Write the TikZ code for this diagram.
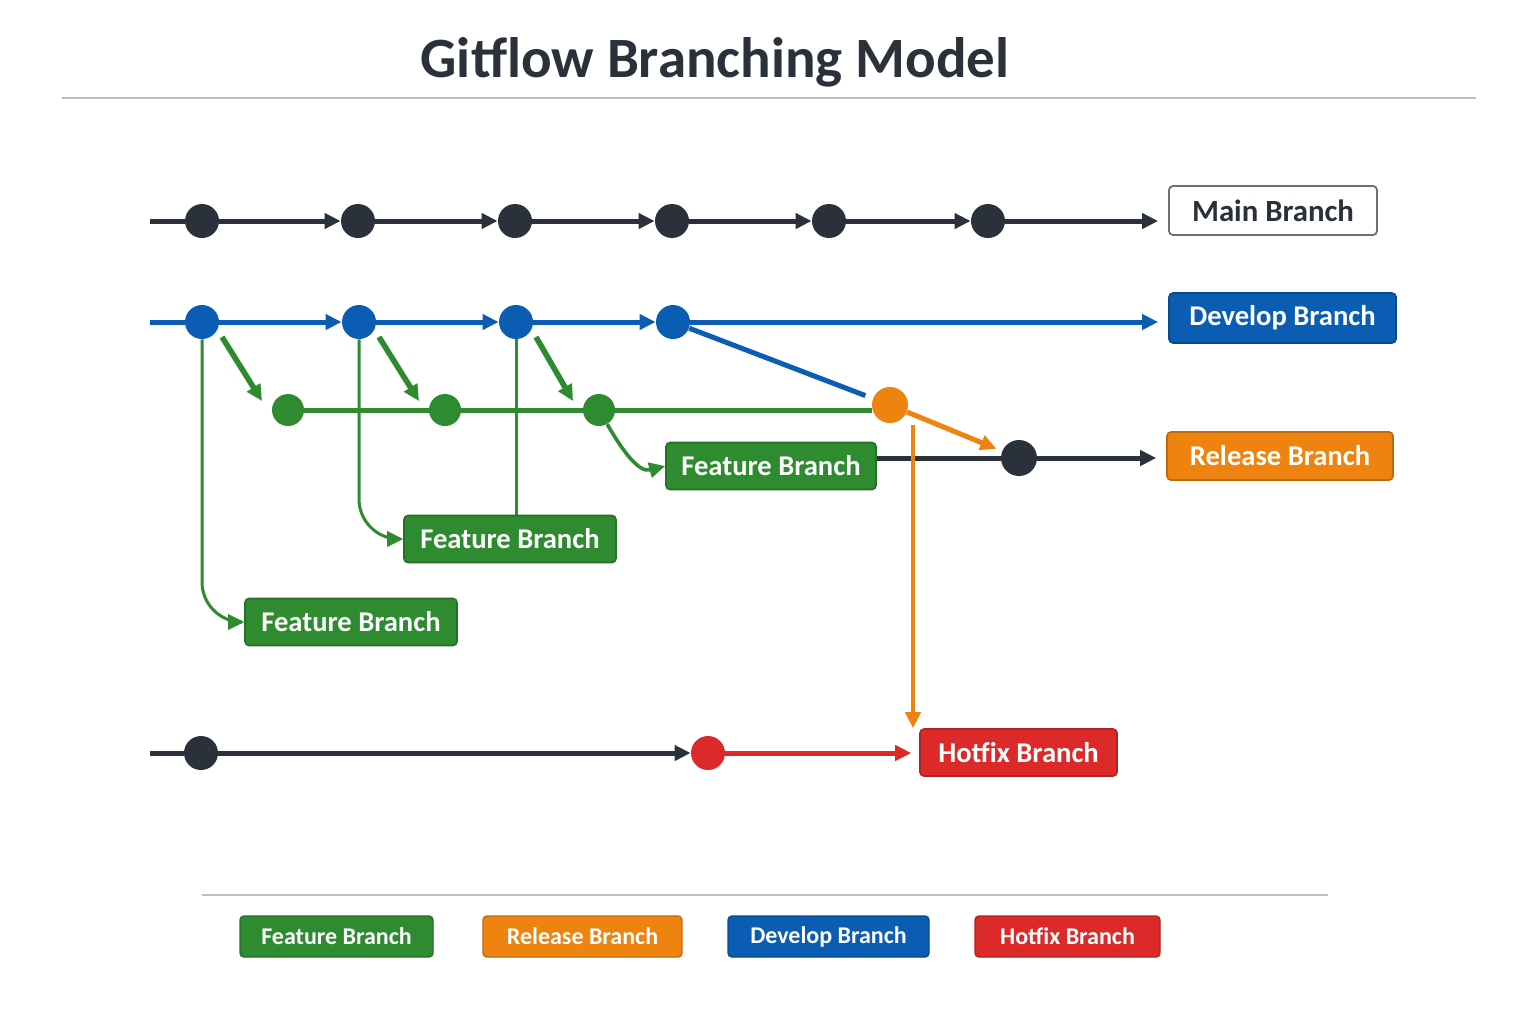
\documentclass[tikz,border=0pt]{standalone}
\usepackage{fontspec}
\setmainfont{Carlito}
\usetikzlibrary{arrows.meta,backgrounds}
\definecolor{ink}{HTML}{2B313B}
\definecolor{gblue}{HTML}{0B5DB3}
\definecolor{ggreen}{HTML}{2E8B30}
\definecolor{gorange}{HTML}{EE8310}
\definecolor{gred}{HTML}{DC2A2A}
\definecolor{rule}{HTML}{BDBDBD}
\begin{document}
\begin{tikzpicture}[x=0.5pt,y=-0.5pt,
  dot/.style={circle,inner sep=0pt,minimum size=17pt,fill=#1},
  gdot/.style={circle,inner sep=0pt,minimum size=16pt,fill=ggreen},
  lbox/.style={rounded corners=2pt,draw=#1!80!black,fill=#1,text=white,line width=0.8pt,
    font=\fontsize{14.3}{17}\selectfont\bfseries,inner sep=0pt,minimum height=23.5pt},
  legbox/.style={rounded corners=2pt,draw=#1!80!black,fill=#1,text=white,line width=0.7pt,
    font=\fontsize{12}{14}\selectfont\bfseries,inner sep=0pt,minimum height=20.5pt},
  tip/.style={-{Triangle[length=8pt,width=7.5pt]}},
  stip/.style={-{Triangle[length=8pt,width=7.5pt]}},
  thick4/.style={line width=2.5pt},
]
\useasboundingbox (0,0) rectangle (1536,1024);
% title
\node[font=\fontsize{28.5}{32}\selectfont\bfseries,text=ink] (title) at (715,62) {Gitflow Branching Model};
\coordinate (r1a) at (62,98); \coordinate (r1b) at (1476,98);
\draw[rule,line width=0.8pt] (r1a) -- (r1b);

% boxes
\node[rounded corners=2pt,draw=ink!70,fill=white,text=ink,line width=0.9pt,
  font=\fontsize{15.4}{18}\selectfont\bfseries,inner sep=0pt,minimum width=104pt,minimum height=24.5pt]
  (mainbox) at (1273,210.5) {Main Branch};
\node[lbox=gblue,minimum width=113.5pt,minimum height=25pt] (devbox) at (1282.5,318) {Develop Branch};
\node[lbox=gorange,minimum width=113pt,minimum height=24pt] (relbox) at (1280,456) {Release Branch};
\node[lbox=ggreen,minimum width=105pt] (f1) at (771,466) {Feature Branch};
\node[lbox=ggreen,minimum width=106pt] (f2) at (510,539) {Feature Branch};
\node[lbox=ggreen,minimum width=106pt] (f3) at (351,622) {Feature Branch};
\node[lbox=gred,minimum width=98.5pt] (hf) at (1018.5,752.5) {Hotfix Branch};

% main row
\coordinate (ms) at (150,221);
\foreach \i/\x in {1/202,2/358,3/515,4/672,5/829,6/988}{
  \node[dot=ink] (m\i) at (\x,221) {};
}
% develop row
\coordinate (ds) at (150,322);
\foreach \i/\x in {1/202,2/359,3/516,4/673}{
  \node[dot=gblue] (d\i) at (\x,322) {};
}
% feature row
\foreach \i/\x in {1/288,2/445,3/599}{
  \node[gdot] (g\i) at (\x,410) {};
}
\node[dot=gorange,minimum size=18pt] (o1) at (890,405) {};
\node[dot=ink,minimum size=18pt] (r1) at (1019,458) {};
% hotfix row
\coordinate (hs) at (150,753);
\node[dot=ink,minimum size=17pt] (h1) at (201,753) {};
\node[dot=gred,minimum size=17pt] (h2) at (708,753) {};
\coordinate (ov) at (913,425);

\begin{scope}[on background layer]
\fill[white] (0,0) rectangle (1536,1024);
% main
\draw[ink,thick4] (ms) -- (m1);
\foreach \a/\b in {1/2,2/3,3/4,4/5,5/6}{
  \draw[ink,thick4,tip] (m\a) -- (m\b);
}
\draw[ink,thick4,tip,shorten >=5pt] (m6) -- (m6 -| mainbox.west);
% develop
\draw[gblue,thick4] (ds) -- (d1);
\foreach \a/\b in {1/2,2/3,3/4}{
  \draw[gblue,thick4,tip] (d\a) -- (d\b);
}
\draw[gblue,thick4,tip,shorten >=5pt] (d4) -- (d4 -| devbox.west);
\draw[gblue,thick4,shorten >=4pt] (d4) -- (o1);
% feature
\draw[ggreen,thick4] (g1) -- (g1 -| o1.west);
\draw[ggreen,line width=1.5pt,rounded corners=20pt,stip] (d1) |- (f3.west);
\draw[ggreen,line width=1.5pt,rounded corners=20pt,stip] (d2) |- (f2.west);
\draw[ggreen,line width=1.5pt] (d3) -- (d3 |- f2.north);
\draw[ggreen,line width=1.8pt,stip] (g3.-60) to[out=-60,in=195] (f1.west);
\foreach \i in {1,2,3}{
  \draw[ggreen,line width=2.8pt,tip] ([shift={(20,15)}]d\i.center) -- ([shift={(-26,-9)}]g\i.center);
}
% release
\draw[ink,thick4] (f1.east |- r1) -- (r1);
\draw[ink,thick4,tip,shorten >=5pt] (r1) -- (r1 -| relbox.west);
\draw[gorange,thick4,tip,shorten >=3pt] (o1) -- (r1);
\draw[gorange,line width=2pt,tip] (ov) -- (ov |- hf.north);
% hotfix
\draw[ink,thick4] (hs) -- (h1);
\draw[ink,thick4,tip] (h1) -- (h2);
\draw[gred,thick4,tip,shorten >=4pt] (h2) -- (h2 -| hf.west);
\end{scope}

% legend
\coordinate (r2a) at (202,895); \coordinate (r2b) at (1328,895);
\draw[rule,line width=0.8pt] (r2a) -- (r2b);
\node[legbox=ggreen,minimum width=96.5pt] (lf) at (336.5,936.5) {Feature Branch};
\node[legbox=gorange,minimum width=99.5pt] (lr) at (582.5,936.5) {Release Branch};
\node[legbox=gblue,minimum width=100.5pt] (ld) at (828.5,936.5) {Develop Branch};
\node[legbox=gred,minimum width=92.5pt] (lh) at (1067.5,936.5) {Hotfix Branch};
\end{tikzpicture}
\end{document}
